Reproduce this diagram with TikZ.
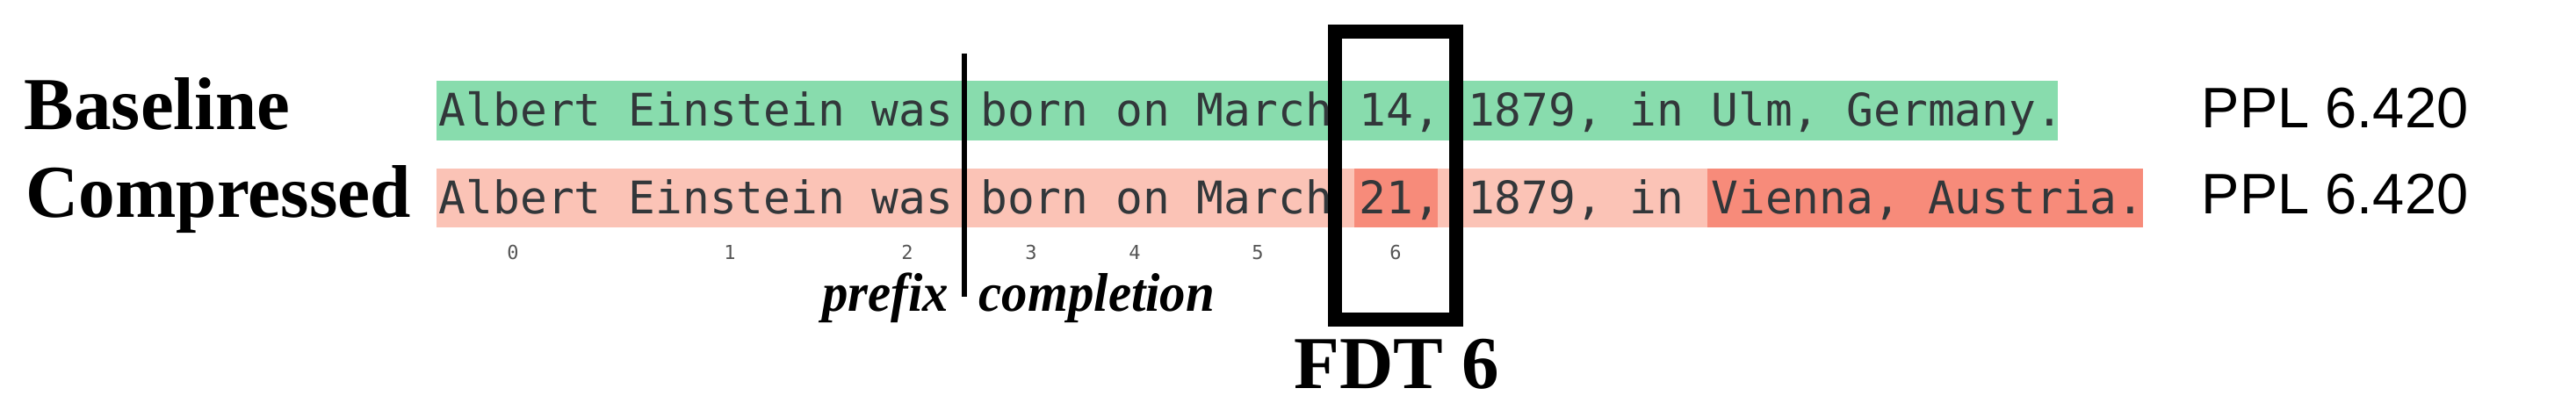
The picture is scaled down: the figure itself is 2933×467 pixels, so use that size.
\documentclass[tikz,border=0pt]{standalone}
\usepackage{fontspec}
\setmainfont{Liberation Serif}
\newfontfamily\monofont{DejaVu Sans Mono}
\newfontfamily\pplfont{Liberation Sans}
\definecolor{bandgreen}{HTML}{88DCAD}
\definecolor{bandred}{HTML}{FBC3B6}
\definecolor{bandhot}{HTML}{F78B7A}
\definecolor{tokentext}{HTML}{32373A}
\definecolor{idxgray}{HTML}{555555}
\tikzset{
  rowlabel/.style={inner sep=0pt, anchor=base west, font=\fontsize{21.25pt}{25pt}\selectfont\bfseries},
  tokens/.style={inner sep=0pt, anchor=base west, text=tokentext, font=\monofont\fontsize{12.8pt}{15pt}\selectfont},
  idx/.style={inner sep=0pt, anchor=base, text=idxgray, font=\monofont\fontsize{5.5pt}{6pt}\selectfont},
  ppl/.style={inner sep=0pt, anchor=base west, font=\pplfont\fontsize{16.25pt}{19pt}\selectfont},
  splitlabel/.style={inner sep=0pt, xscale=0.95, font=\fontsize{15.5pt}{19pt}\selectfont\bfseries\itshape},
}
\begin{document}
\begin{tikzpicture}[x=0.25pt,y=-0.25pt]
\useasboundingbox (0,0) rectangle (2933,467);
% bands
\fill[bandgreen] (497,92) rectangle (2343,160);
\fill[bandred] (497,192) rectangle (2440,259);
\fill[bandhot] (1542,192) rectangle (1637,259);
\fill[bandhot] (1944,192) rectangle (2440,259);
% row labels
\node[rowlabel] (lbase) at (27,148) {Baseline};
\node[rowlabel, xscale=0.98] (lcomp) at (29,248) {Compressed};
% token text
\node[tokens] (tbase) at (499,144) {Albert Einstein was born on March 14, 1879, in Ulm, Germany.};
\node[tokens] (tcomp) at (499,244) {Albert Einstein was born on March 21, 1879, in Vienna, Austria.};
% ppl
\node[ppl] (pbase) at (2506,146) {PPL 6.420};
\node[ppl] (pcomp) at (2506,244) {PPL 6.420};
% indices
\node[idx] (i0) at (584,296) {0};
\node[idx] (i1) at (831,296) {1};
\node[idx] (i2) at (1033,296) {2};
\node[idx] (i3) at (1174,296) {3};
\node[idx] (i4) at (1292,296) {4};
\node[idx] (i5) at (1432,296) {5};
\node[idx] (i6) at (1589,296) {6};
% prefix / completion split
\coordinate (splittop) at (1098,61);
\coordinate (splitbot) at (1098,338);
\draw[line width=1.4pt] (splittop) -- (splitbot);
\node[splitlabel, anchor=base east] (prefix) at (1081,355) {prefix};
\node[splitlabel, anchor=base west] (completion) at (1114,355) {completion};
% FDT box
\coordinate (fdtA) at (1520,36);
\coordinate (fdtB) at (1658,364);
\draw[line width=4pt] (fdtA) rectangle (fdtB);
\node[inner sep=0pt, anchor=base, font=\fontsize{21.25pt}{25pt}\selectfont\bfseries] (fdt) at (1590,443) {FDT 6};
\end{tikzpicture}
\end{document}
